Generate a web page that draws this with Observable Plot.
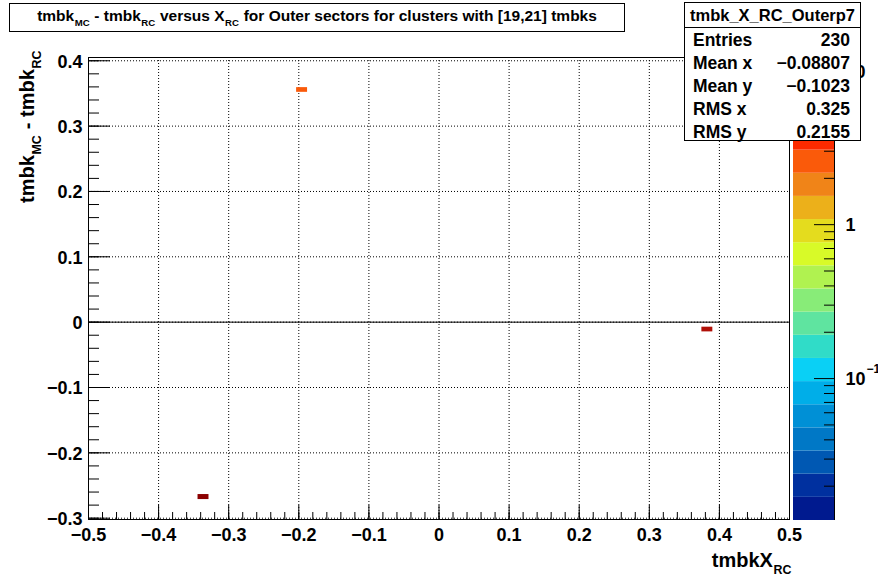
<!DOCTYPE html>
<html><head><meta charset="utf-8">
<script src="https://cdn.jsdelivr.net/npm/d3@7"></script>
<script src="https://cdn.jsdelivr.net/npm/@observablehq/plot@0.6"></script>
<style>
body{margin:0;background:#fff;}
#fig{position:relative;width:878px;height:578px;overflow:hidden;font-family:"Liberation Sans",Arial,sans-serif;font-weight:bold;color:#000;background:#fff;}
#fig svg{position:absolute;left:0;top:0;}
.abs{position:absolute;white-space:nowrap;}
.box{position:absolute;background:#fff;border:1px solid #000;box-sizing:border-box;}
.sub{font-size:0.62em;position:relative;top:0.55em;margin:0 0.05em;}
.row{position:absolute;left:8px;right:10px;height:23px;line-height:23px;font-size:17.5px;}
.row .v{position:absolute;right:0;top:0;}
</style></head>
<body><div id="fig"></div>
<script>
// ---- data ----
const xMajorTicks = [-0.5, -0.4, -0.3, -0.2, -0.1, 0, 0.1, 0.2, 0.3, 0.4, 0.5];
const yMajorTicks = [-0.3, -0.2, -0.1, 0, 0.1, 0.2, 0.3, 0.4];
const cellX1 = [-0.34375, -0.203125, 0.375];
const cellX2 = [-0.328125, -0.1875, 0.390625];
const cellY1 = [-0.2715, 0.3517, -0.0149];
const cellY2 = [-0.2638, 0.3589, -0.0077];
const cellZ  = [11.5, 2.6, 7.2];
const zMajorTicks = [0.1, 1, 10];
const zMinorTicks = [0.02,0.03,0.04,0.05,0.06,0.07,0.08,0.09,0.2,0.3,0.4,0.5,0.6,0.7,0.8,0.9,2,3,4,5,6,7,8,9];
const paletteColors = ["#001a8f","#00309f","#0058b3","#0078c6","#0090d6","#00aee8","#0ad0f5","#30dcc8","#5fe4a0","#88ec78","#b0f250","#d8fa28","#e4dc1e","#ecb01a","#f08418","#fa5a0a","#fc2a00","#dc1000","#b01008","#8b0000"];
const statsLabels = ["Entries", "Mean x", "Mean y", "RMS x", "RMS y"];
const statsValues = ["230", "\u22120.08807", "\u22120.1023", "0.325", "0.2155"];

// ---- layout ----
const W = 878, H = 578;
const mL = 88, mR = 89, mT = 57, mB = 59;
const xDomain = [-0.5, 0.5], yDomain = [-0.302, 0.405];
const zDomain = [0.01197, 12.19];
const pxX = (W - mL - mR) / (xDomain[1] - xDomain[0]);
const pxY = (H - mT - mB) / (yDomain[1] - yDomain[0]);
const xMinorTicks = d3.range(-25, 26).map(i => i / 50);
const yMinorTicks = d3.range(-15, 21).map(i => i / 50);
const lz0 = Math.log10(zDomain[0]), lz1 = Math.log10(zDomain[1]);
const nLev = paletteColors.length;
const zEdges = d3.range(nLev + 1).map(i => Math.pow(10, lz0 + (lz1 - lz0) * i / nLev));
const colorScale = {type: "threshold", domain: zEdges.slice(1, -1), range: paletteColors};
const cells = cellZ.map((z, i) => ({x1: cellX1[i], x2: cellX2[i], y1: cellY1[i], y2: cellY2[i], z}));
const fmt = d => Math.abs(d) < 1e-9 ? "0" : d3.format(".1f")(d);
const font = "Liberation Sans, Arial, sans-serif";

const fig = document.getElementById("fig");

const main = Plot.plot({
  width: W, height: H,
  marginLeft: mL, marginRight: mR, marginTop: mT, marginBottom: mB,
  x: {domain: xDomain, axis: null},
  y: {domain: yDomain, axis: null},
  color: colorScale,
  style: {background: "transparent", fontFamily: font},
  marks: [
    Plot.ruleX(xMajorTicks.slice(1, -1), {stroke: "#000", strokeDasharray: "1,2"}),
    Plot.ruleY(yMajorTicks, {stroke: "#000", strokeDasharray: "1,2"}),
    Plot.rect(cells, {x1: "x1", x2: "x2", y1: "y1", y2: "y2", fill: "z"}),
    Plot.ruleY([0], {stroke: "#000"}),
    Plot.ruleX(xMajorTicks, {x: d => d, y1: yDomain[0], y2: yDomain[0] + 14 / pxY, stroke: "#000"}),
    Plot.ruleX(xMinorTicks, {x: d => d, y1: yDomain[0], y2: yDomain[0] + 7 / pxY, stroke: "#000"}),
    Plot.ruleY(yMajorTicks, {y: d => d, x1: xDomain[0], x2: xDomain[0] + 22 / pxX, stroke: "#000"}),
    Plot.ruleY(yMinorTicks, {y: d => d, x1: xDomain[0], x2: xDomain[0] + 11 / pxX, stroke: "#000"}),
    Plot.frame({stroke: "#000"}),
    Plot.text(xMajorTicks, {x: d => d, y: yDomain[0], text: fmt, dy: 16, lineAnchor: "middle", fontSize: 18, fontWeight: "bold", fill: "#000"}),
    Plot.text(yMajorTicks, {y: d => d, x: xDomain[0], text: fmt, dx: -6, dy: 1, textAnchor: "end", lineAnchor: "middle", fontSize: 18, fontWeight: "bold", fill: "#000"})
  ]
});
fig.appendChild(main);

const bandData = d3.range(nLev).map(i => ({y1: zEdges[i], y2: zEdges[i + 1], z: Math.sqrt(zEdges[i] * zEdges[i + 1])}));
const pal = Plot.plot({
  width: W, height: H,
  marginLeft: 793, marginRight: 44, marginTop: mT, marginBottom: 58,
  x: {domain: [0, 1], axis: null},
  y: {type: "log", domain: zDomain, axis: null},
  color: colorScale,
  style: {background: "transparent", fontFamily: font},
  marks: [
    Plot.rect(bandData, {x1: 0, x2: 1, y1: "y1", y2: "y2", fill: "z"}),
    Plot.ruleX([1], {stroke: "#000"}),
    Plot.ruleY(zMajorTicks, {y: d => d, x1: 1 - 20 / 41, x2: 1, stroke: "#000"}),
    Plot.ruleY(zMinorTicks, {y: d => d, x1: 1 - 10 / 41, x2: 1, stroke: "#000"}),
    Plot.text(zMajorTicks, {y: d => d, x: 1, text: d => d === 1 ? "1" : "10", dx: 11, dy: 1, textAnchor: "start", lineAnchor: "middle", fontSize: 18, fontWeight: "bold", fill: "#000"}),
    Plot.text(zMajorTicks.filter(d => d < 1), {y: d => d, x: 1, text: () => "\u22121", dx: 32, dy: -9, textAnchor: "start", lineAnchor: "middle", fontSize: 12, fontWeight: "bold", fill: "#000"})
  ]
});
fig.appendChild(pal);

// title box
const title = document.createElement("div");
title.className = "box";
Object.assign(title.style, {left: "9px", top: "3px", width: "616px", height: "29px", textAlign: "center", fontSize: "15.5px", lineHeight: "24px"});
title.innerHTML = 'tmbk<span class="sub">MC</span> - tmbk<span class="sub">RC</span> versus X<span class="sub">RC</span> for Outer sectors for clusters with [19,21] tmbks';
fig.appendChild(title);

// x title
const xt = document.createElement("div");
xt.className = "abs";
Object.assign(xt.style, {right: (W - 792) + "px", top: "548px", fontSize: "20px", lineHeight: "24px"});
xt.innerHTML = 'tmbkX<span class="sub">RC</span>';
fig.appendChild(xt);

// y title
const yt = document.createElement("div");
yt.className = "abs";
Object.assign(yt.style, {left: "0px", top: "0px", width: "300px", textAlign: "right", fontSize: "20px", lineHeight: "24px", transformOrigin: "0 0", transform: "translate(15px, 350px) rotate(-90deg)"});
yt.innerHTML = 'tmbk<span class="sub">MC</span> - tmbk<span class="sub">RC</span>';
fig.appendChild(yt);

// stats box
const st = document.createElement("div");
st.className = "box";
Object.assign(st.style, {left: "684px", top: "2px", width: "177px", height: "139px"});
const hd = document.createElement("div");
Object.assign(hd.style, {position: "absolute", left: "0", right: "0", top: "0", height: "24px", lineHeight: "24px", textAlign: "center", fontSize: "16.5px", borderBottom: "1px solid #000"});
hd.textContent = "tmbk_X_RC_Outerp7";
st.appendChild(hd);
statsLabels.forEach((lab, i) => {
  const r = document.createElement("div");
  r.className = "row";
  r.style.top = (26 + i * 23) + "px";
  r.innerHTML = '<span>' + lab + '</span><span class="v">' + statsValues[i] + '</span>';
  st.appendChild(r);
});
fig.appendChild(st);
</script>
</body></html>
